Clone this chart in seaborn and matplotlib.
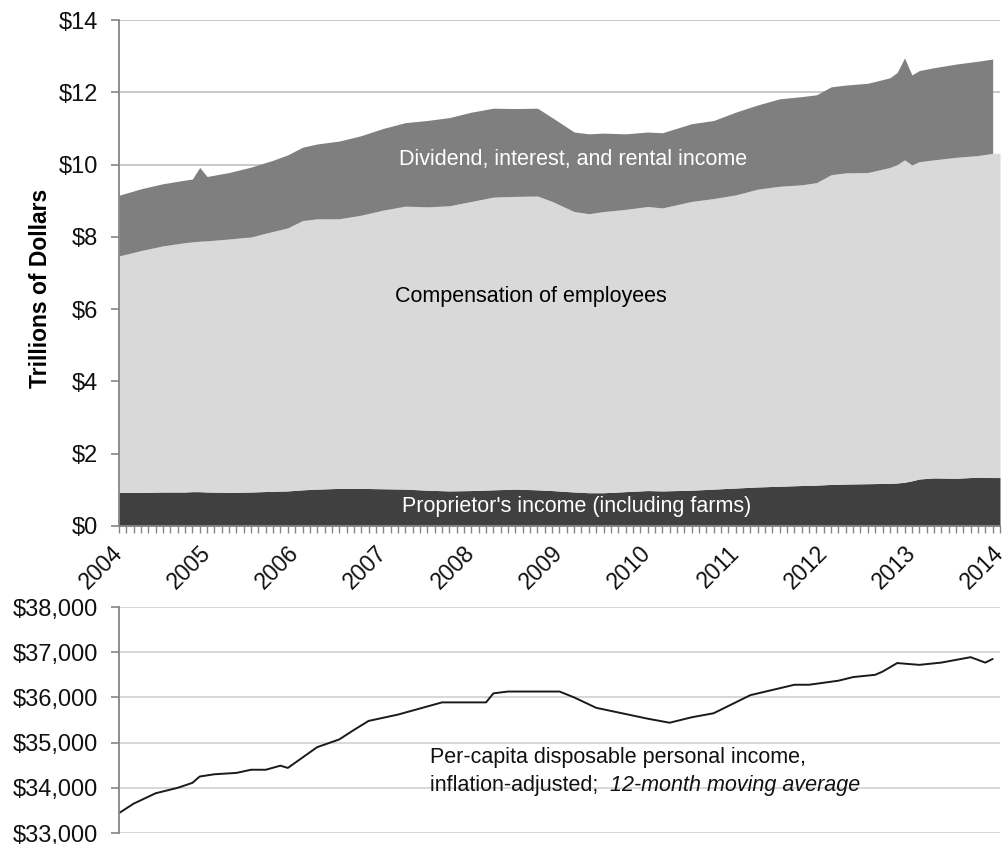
import matplotlib
matplotlib.use('Agg')
import matplotlib.pyplot as plt
import numpy as np
import pandas as pd
import seaborn as sns
from matplotlib.ticker import MultipleLocator, FuncFormatter

# --- top panel: personal income components, trillions of dollars ---
top_months = ['2004-01', '2004-04', '2004-07', '2004-10', '2004-11', '2004-12',
              '2005-01', '2005-04', '2005-07', '2005-10', '2005-12',
              '2006-02', '2006-04', '2006-07', '2006-10',
              '2007-01', '2007-04', '2007-07', '2007-10',
              '2008-01', '2008-04', '2008-07', '2008-10', '2008-12',
              '2009-03', '2009-05', '2009-07', '2009-10',
              '2010-01', '2010-03', '2010-07', '2010-10',
              '2011-01', '2011-04', '2011-07', '2011-10', '2011-12',
              '2012-02', '2012-04', '2012-07', '2012-10', '2012-11', '2012-12',
              '2013-01', '2013-02', '2013-04', '2013-07', '2013-10', '2013-12',
              '2014-01']
proprietors = [0.93, 0.93, 0.94, 0.94, 0.95, 0.95,
               0.94, 0.93, 0.94, 0.96, 0.97,
               1.00, 1.02, 1.04, 1.04,
               1.03, 1.02, 0.99, 0.97,
               0.98, 1.00, 1.02, 1.00, 0.98,
               0.94, 0.92, 0.92, 0.95,
               0.98, 0.97, 0.99, 1.02,
               1.05, 1.08, 1.10, 1.12, 1.13,
               1.15, 1.16, 1.17, 1.18, 1.19, 1.21,
               1.25, 1.30, 1.33, 1.32, 1.35, 1.34,
               1.34]
compensation = [6.54, 6.69, 6.81, 6.90, 6.91, 6.93,
                6.95, 7.01, 7.06, 7.19, 7.28,
                7.45, 7.48, 7.46, 7.56,
                7.71, 7.83, 7.84, 7.89,
                8.00, 8.10, 8.10, 8.13, 8.00,
                7.76, 7.72, 7.78, 7.81,
                7.86, 7.83, 7.99, 8.04,
                8.11, 8.24, 8.30, 8.32, 8.37,
                8.57, 8.61, 8.61, 8.74, 8.81, 8.92,
                8.74, 8.78, 8.80, 8.88, 8.90, 8.97,
                8.97]
dividends = [1.68, 1.71, 1.72, 1.73, 1.74, 2.04,
             1.78, 1.84, 1.93, 1.97, 2.02,
             2.03, 2.07, 2.15, 2.20,
             2.26, 2.31, 2.39, 2.44,
             2.47, 2.46, 2.43, 2.43, 2.32,
             2.20, 2.21, 2.17, 2.09,
             2.06, 2.08, 2.15, 2.16,
             2.29, 2.33, 2.42, 2.44, 2.43,
             2.43, 2.43, 2.47, 2.48, 2.55, 2.82,
             2.49, 2.52, 2.55, 2.58, 2.61, 2.61,
             np.nan]

# --- bottom panel: per-capita disposable income (12-month moving average) ---
line_months = ['2004-01', '2004-03', '2004-06', '2004-09', '2004-11', '2004-12',
               '2005-02', '2005-05', '2005-07', '2005-09', '2005-11', '2005-12',
               '2006-04', '2006-07', '2006-09', '2006-11',
               '2007-03', '2007-09', '2008-03', '2008-04', '2008-06',
               '2009-01', '2009-03', '2009-06', '2010-01', '2010-04', '2010-07',
               '2010-10', '2011-03', '2011-09', '2011-11',
               '2012-03', '2012-05', '2012-08', '2012-09', '2012-11',
               '2013-02', '2013-05', '2013-09', '2013-11', '2013-12']
income_per_capita = [33440, 33650, 33880, 34000, 34110, 34250,
                     34300, 34330, 34400, 34400, 34490, 34440,
                     34900, 35070, 35280, 35480,
                     35620, 35890, 35890, 36090, 36130,
                     36130, 36000, 35770, 35530, 35440, 35560,
                     35650, 36050, 36280, 36280,
                     36370, 36450, 36500, 36570, 36760,
                     36720, 36770, 36890, 36770, 36850]


def to_year(months):
    d = pd.to_datetime(pd.Series(months))
    return (d.dt.year + (d.dt.month - 1) / 12).to_numpy()


x_top = to_year(top_months)
line_df = pd.DataFrame({'year': to_year(line_months), 'income': income_per_capita})

sns.set_theme(style='white')
plt.rcParams['font.family'] = ['Liberation Sans', 'DejaVu Sans']

spine_col = '#868686'
txt_col = '#111111'
fig = plt.figure(figsize=(10.03, 8.44), dpi=100)

# top chart
ax = fig.add_axes([0.1186, 0.3768, 0.8784, 0.5995])
ax.stackplot(x_top, proprietors, compensation, dividends,
             colors=['#404040', '#d9d9d9', '#7f7f7f'], linewidth=0)
ax.set_xlim(2004, 2014)
ax.set_ylim(0, 14)
ax.yaxis.set_major_locator(MultipleLocator(2))
ax.yaxis.set_major_formatter(FuncFormatter(lambda v, p: f'${v:.0f}'))
ax.xaxis.set_major_locator(MultipleLocator(1))
ax.xaxis.set_minor_locator(MultipleLocator(1 / 12))
ax.xaxis.set_major_formatter(FuncFormatter(lambda v, p: f'{v:.0f}'))
ax.yaxis.grid(True, color='#c4c4c4', lw=1.3)
ax.set_axisbelow(True)
for s in ['top', 'right']:
    ax.spines[s].set_visible(False)
for s in ['left', 'bottom']:
    ax.spines[s].set_color(spine_col)
    ax.spines[s].set_linewidth(1.3)
ax.tick_params(axis='y', which='major', left=True, length=6, width=1.2,
               color=spine_col, labelsize=17, pad=9, labelcolor=txt_col)
ax.tick_params(axis='x', which='both', bottom=True, length=5, width=1,
               color=spine_col, direction='out')
ax.tick_params(axis='x', which='major', labelsize=16.5, pad=12, labelcolor=txt_col)
for lab in ax.get_xticklabels():
    lab.set_rotation(45)
    lab.set_ha('right')
    lab.set_va('center')
    lab.set_rotation_mode('anchor')

ax.text(2009.15, 10.13, 'Dividend, interest, and rental income', color='white',
        fontsize=15.5, ha='center', va='center')
ax.text(2008.67, 6.34, 'Compensation of employees', color='black',
        fontsize=15.5, ha='center', va='center')
ax.text(2009.2, 0.53, "Proprietor's income (including farms)", color='white',
        fontsize=15.5, ha='center', va='center')

fig.text(41 / 1003, 1 - 288 / 844, 'Trillions of Dollars', rotation=90,
         fontsize=16.5, fontweight='bold', ha='center', va='center', color='black')

# bottom chart
ax2 = fig.add_axes([0.1186, 0.0130, 0.8784, 0.2678])
sns.lineplot(data=line_df, x='year', y='income', ax=ax2, color='#1a1a1a', lw=1.4)
ax2.set_xlim(2004, 2014)
ax2.set_ylim(33000, 38000)
ax2.yaxis.set_major_locator(MultipleLocator(1000))
ax2.yaxis.set_major_formatter(FuncFormatter(lambda v, p: f'${v:,.0f}'))
ax2.set_xticks([])
ax2.set_xlabel('')
ax2.set_ylabel('')
ax2.yaxis.grid(True, color='#d4d4d4', lw=1.3)
ax2.set_axisbelow(True)
for s in ['top', 'right', 'bottom']:
    ax2.spines[s].set_visible(False)
ax2.spines['left'].set_color(spine_col)
ax2.spines['left'].set_linewidth(1.3)
ax2.tick_params(axis='y', left=True, length=6, width=1.2, color=spine_col,
                labelsize=17, pad=9, labelcolor=txt_col)

t1 = ax2.text(2007.53, 34679, 'Per-capita disposable personal income,',
              fontsize=15.5, ha='left', va='center', color=txt_col)
t2 = ax2.text(2007.53, 34058, 'inflation-adjusted;  ',
              fontsize=15.5, ha='left', va='center', color=txt_col)
ax2.annotate('12-month moving average', xy=(1, 0), xycoords=t2, va='bottom',
             ha='left', fontsize=15.5, fontstyle='italic', color=txt_col)

fig.savefig('out.png', dpi=100)
